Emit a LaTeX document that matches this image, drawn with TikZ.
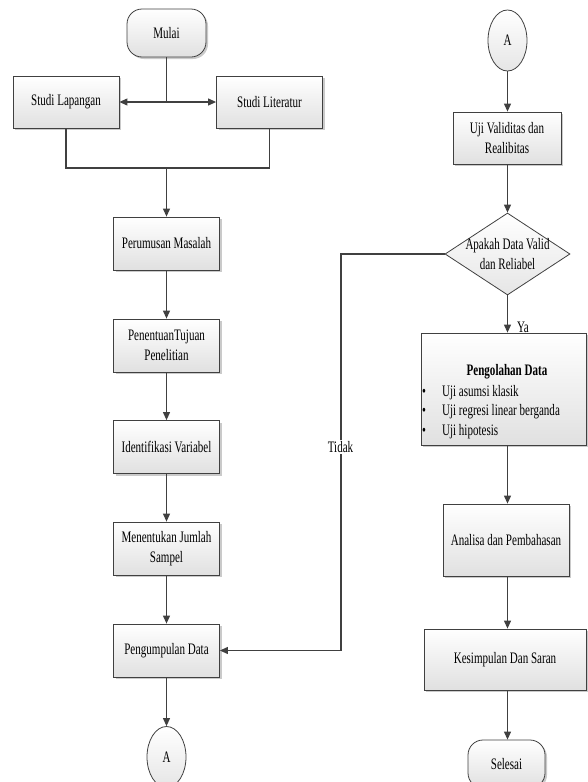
\documentclass[tikz,border=0pt]{standalone}
\usepackage{fontspec}
\setmainfont[FakeStretch=0.69]{Liberation Serif}
\usepackage{xcolor}
\definecolor{abu}{RGB}{64,64,64}
\newcommand\teks{\fontsize{16}{19.5}\selectfont}
\usetikzlibrary{arrows.meta,shapes.geometric,shadows}

\begin{document}
\begin{tikzpicture}[x=1pt,y=-1pt,>={Triangle[length=8pt,width=7pt]},
	garis/.style={draw=abu,line width=1.1pt},
	proses/.style={draw=abu,line width=.8pt,rectangle,top color=white,bottom color=black!12,
		drop shadow={shadow xshift=2pt,shadow yshift=-2pt,fill=black!35,opacity=.6},
		font=\teks,align=center,inner sep=2pt},
	terminal/.style={proses,rounded corners=15pt},
	konektor/.style={draw=abu,line width=.8pt,ellipse,top color=white,bottom color=black!10,
		font=\teks,inner sep=0pt,minimum width=39pt,minimum height=61pt},
	keputusan/.style={draw=abu,line width=.8pt,diamond,top color=white,bottom color=black!10,
		inner sep=0pt,minimum width=125pt,minimum height=82pt}]
	
	\useasboundingbox (0,0) rectangle (587,782);
	
	\coordinate (cabang) at (166.5,102); % split below Mulai
	\coordinate (gabung) at (166.5,168); % join of the two studies
	\coordinate (belok) at (341,254);    % corner of the Tidak line
	
	% left column
	\node[terminal,minimum width=79pt,minimum height=48pt] (mulai) at (166.5,33) {Mulai};
	\node[proses,minimum width=106pt,minimum height=52pt] (lapangan) at (66,102) {Studi Lapangan};
	\node[proses,minimum width=106pt,minimum height=52pt] (literatur) at (269.5,102) {Studi Literatur};
	\node[proses,minimum width=106pt,minimum height=53pt] (rumus) at (166.5,243.5) {Perumusan Masalah};
	\node[proses,minimum width=106pt,minimum height=53pt] (tujuan) at (166.5,345.5) {PenentuanTujuan\\Penelitian};
	\node[proses,minimum width=106pt,minimum height=53pt] (variabel) at (166.5,447) {Identifikasi Variabel};
	\node[proses,minimum width=106pt,minimum height=53pt] (sampel) at (166.5,548.5) {Menentukan Jumlah\\Sampel};
	\node[proses,minimum width=106pt,minimum height=53pt] (kumpul) at (166.5,650.5) {Pengumpulan Data};
	\node[konektor] (akiri) at (166.5,757) {A};
	
	% right column
	\node[konektor] (akanan) at (507.5,40.5) {A};
	\node[proses,minimum width=108pt,minimum height=52pt] (uji) at (507,138) {Uji Validitas dan\\Realibitas};
	\node[keputusan] (cek) at (507.5,254) {};
	\node[font=\teks,align=center,inner sep=0pt] (cekteks) at (cek.center) {Apakah Data Valid\\dan Reliabel};
	\node[proses,minimum width=165pt,minimum height=112pt] (olah) at (503.5,389) {};
	\node[font=\teks\bfseries,inner sep=0pt] (olahjudul) at (507,372) {Pengolahan Data};
	\node[font=\teks,align=left,inner sep=0pt,anchor=west] (olahisi) at (422,412)
		{\textbullet\hspace{16pt}Uji asumsi klasik\\
		 \textbullet\hspace{16pt}Uji regresi linear berganda\\
		 \textbullet\hspace{16pt}Uji hipotesis};
	\node[proses,minimum width=126pt,minimum height=72pt] (analisa) at (506,540) {Analisa dan Pembahasan};
	\node[proses,minimum width=162pt,minimum height=61pt] (simpul) at (505,659.5) {Kesimpulan Dan Saran};
	\node[terminal,minimum width=77pt,minimum height=48pt] (selesai) at (506.5,764) {Selesai};
	
	% connectors, left
	\draw[garis] (mulai.south) -- (cabang);
	\draw[garis,->] (cabang) -- (lapangan.east);
	\draw[garis,->] (cabang) -- (literatur.west);
	\draw[garis] (lapangan.south) |- (gabung) -| (literatur.south);
	\draw[garis,->] (gabung) -- (rumus.north);
	\draw[garis,->] (rumus) -- (tujuan);
	\draw[garis,->] (tujuan) -- (variabel);
	\draw[garis,->] (variabel) -- (sampel);
	\draw[garis,->] (sampel) -- (kumpul);
	\draw[garis,->] (kumpul) -- (akiri);
	
	% connectors, right
	\draw[garis,->] (akanan.south) -- (akanan.south |- uji.north);
	\draw[garis,->] (cek.north |- uji.south) -- (cek.north);
	\draw[garis,->] (cek.south) -- (cek.south |- olah.north);
	\draw[garis,->] (cek.south |- olah.south) -- (cek.south |- analisa.north);
	\draw[garis,->] (cek.south |- analisa.south) -- (cek.south |- simpul.north);
	\draw[garis,->] (cek.south |- simpul.south) -- (cek.south |- selesai.north);
	\draw[garis,->] (cek.west) -- (belok) |- (kumpul.east);
	
	\node[font=\teks,fill=white,inner sep=1.5pt] (tidak) at (340.5,447) {Tidak};
	\node[font=\teks,inner sep=0pt] (ya) at (523,327) {Ya};
	
\end{tikzpicture}
\end{document}
